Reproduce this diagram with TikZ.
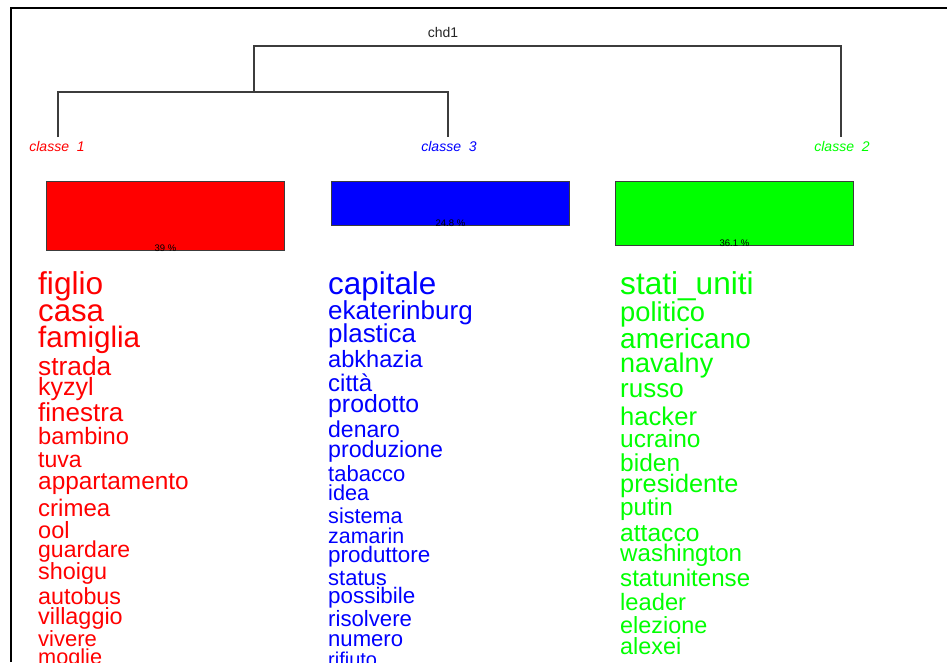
\documentclass[tikz,border=0pt]{standalone}
\usepackage{fontspec}
\setmainfont{Liberation Sans}
\newcommand\wsz[1]{\fontsize{#1}{#1}\selectfont}
\definecolor{cr}{RGB}{255,0,0}
\definecolor{cb}{RGB}{0,0,255}
\definecolor{cg}{RGB}{0,255,0}
\definecolor{dgray}{RGB}{60,60,60}
\begin{document}
\begin{tikzpicture}[x=1pt,y=-1pt,
  wd/.style={anchor=base west,inner sep=0pt},
  wr/.style={wd,text=cr},
  wb/.style={wd,text=cb},
  wg/.style={wd,text=cg},
  dendro/.style={draw=dgray,line width=1.3pt},
  lab/.style={inner sep=0pt,font=\wsz{14}\itshape},
  bar/.style={draw=dgray,line width=0.9pt,anchor=north west,inner sep=0pt,minimum width=238pt},
  pct/.style={anchor=base,inner sep=0pt,font=\wsz{9.5},text=black}]
\useasboundingbox (0,0) rectangle (947,662);
\clip (0,0) rectangle (947,662);
\fill[white] (0,0) rectangle (947,662);
% frame
\coordinate (ftl) at (11,8);
\coordinate (ftr) at (947,8);
\coordinate (fbl) at (11,662);
\draw[black,line width=2.8pt] (fbl) -- (ftl) -- (ftr);
% dendrogram
\node[inner sep=0pt,font=\wsz{14},text=black!85] (title) at (443,32) {chd1};
\coordinate (leaf1) at (58,137);
\coordinate (leaf3) at (448,137);
\coordinate (leaf2) at (841,137);
\coordinate (m13) at (254,92);
\coordinate (root) at (254,46);
\draw[dendro] (leaf1) |- (m13) -| (leaf3);
\draw[dendro] (m13) -- (root) -| (leaf2);
\node[lab,text=cr] (cl1) at (57,146) {classe\ \ 1};
\node[lab,text=cb] (cl3) at (449,146) {classe\ \ 3};
\node[lab,text=cg] (cl2) at (842,146) {classe\ \ 2};
% bars
\node[bar,fill=cr,minimum height=69pt] (b1) at (46,181) {};
\node[bar,fill=cb,minimum height=44pt] (b3) at (331,181) {};
\node[bar,fill=cg,minimum height=64pt] (b2) at (615,181) {};
\node[pct] (p1) at ([yshift=-0.5pt]b1.south) {39 \%};
\node[pct] (p3) at ([yshift=-0.5pt]b3.south) {24.8 \%};
\node[pct] (p2) at ([yshift=-0.5pt]b2.south) {36.1 \%};
% classe 1 words
\node[wr,font=\wsz{31.6}] (r1) at (38,294) {figlio};
\node[wr,font=\wsz{31.2}] (r2) at (38,321.5) {casa};
\node[wr,font=\wsz{29.6}] (r3) at (38,347) {famiglia};
\node[wr,font=\wsz{26.3}] (r4) at (38,375) {strada};
\node[wr,font=\wsz{25}] (r5) at (38,395) {kyzyl};
\node[wr,font=\wsz{26}] (r6) at (38,421) {finestra};
\node[wr,font=\wsz{23.7}] (r7) at (38,444) {bambino};
\node[wr,font=\wsz{23}] (r8) at (38,467) {tuva};
\node[wr,font=\wsz{24.4}] (r9) at (38,489) {appartamento};
\node[wr,font=\wsz{24}] (r10) at (38,516) {crimea};
\node[wr,font=\wsz{23.5}] (r11) at (38,538) {ool};
\node[wr,font=\wsz{23}] (r12) at (38,557) {guardare};
\node[wr,font=\wsz{23.4}] (r13) at (38,579) {shoigu};
\node[wr,font=\wsz{23.3}] (r14) at (38,604) {autobus};
\node[wr,font=\wsz{23.4}] (r15) at (38,624) {villaggio};
\node[wr,font=\wsz{22}] (r16) at (38,646) {vivere};
\node[wr,font=\wsz{21.7}] (r17) at (38,664.5) {moglie};
% classe 3 words
\node[wb,font=\wsz{31.4}] (u1) at (328,294) {capitale};
\node[wb,font=\wsz{26}] (u2) at (328,319) {ekaterinburg};
\node[wb,font=\wsz{25.9}] (u3) at (328,342) {plastica};
\node[wb,font=\wsz{23.6}] (u4) at (328,367) {abkhazia};
\node[wb,font=\wsz{24}] (u5) at (328,391) {città};
\node[wb,font=\wsz{24.8}] (u6) at (328,412) {prodotto};
\node[wb,font=\wsz{23}] (u7) at (328,437) {denaro};
\node[wb,font=\wsz{23.2}] (u8) at (328,457) {produzione};
\node[wb,font=\wsz{22}] (u9) at (328,481) {tabacco};
\node[wb,font=\wsz{21.7}] (u10) at (328,500) {idea};
\node[wb,font=\wsz{21.6}] (u11) at (328,523) {sistema};
\node[wb,font=\wsz{21.4}] (u12) at (328,543) {zamarin};
\node[wb,font=\wsz{22.4}] (u13) at (328,562) {produttore};
\node[wb,font=\wsz{22}] (u14) at (328,585) {status};
\node[wb,font=\wsz{22.4}] (u15) at (328,603) {possibile};
\node[wb,font=\wsz{22.2}] (u16) at (328,626) {risolvere};
\node[wb,font=\wsz{22.1}] (u17) at (328,646) {numero};
\node[wb,font=\wsz{20}] (u18) at (328,666) {rifiuto};
% classe 2 words
\node[wg,font=\wsz{31.6}] (g1) at (620,294) {stati\_uniti};
\node[wg,font=\wsz{27.3}] (g2) at (620,321) {politico};
\node[wg,font=\wsz{28}] (g3) at (620,348) {americano};
\node[wg,font=\wsz{27}] (g4) at (620,372) {navalny};
\node[wg,font=\wsz{26}] (g5) at (620,397) {russo};
\node[wg,font=\wsz{25.6}] (g6) at (620,425) {hacker};
\node[wg,font=\wsz{24.5}] (g7) at (620,447) {ucraino};
\node[wg,font=\wsz{24.5}] (g8) at (620,471) {biden};
\node[wg,font=\wsz{25.3}] (g9) at (620,492) {presidente};
\node[wg,font=\wsz{24.3}] (g10) at (620,515) {putin};
\node[wg,font=\wsz{24.6}] (g11) at (620,541) {attacco};
\node[wg,font=\wsz{24.1}] (g12) at (620,561) {washington};
\node[wg,font=\wsz{24.1}] (g13) at (620,586) {statunitense};
\node[wg,font=\wsz{23.7}] (g14) at (620,610) {leader};
\node[wg,font=\wsz{23.4}] (g15) at (620,633) {elezione};
\node[wg,font=\wsz{23.4}] (g16) at (620,654) {alexei};
\end{tikzpicture}
\end{document}
